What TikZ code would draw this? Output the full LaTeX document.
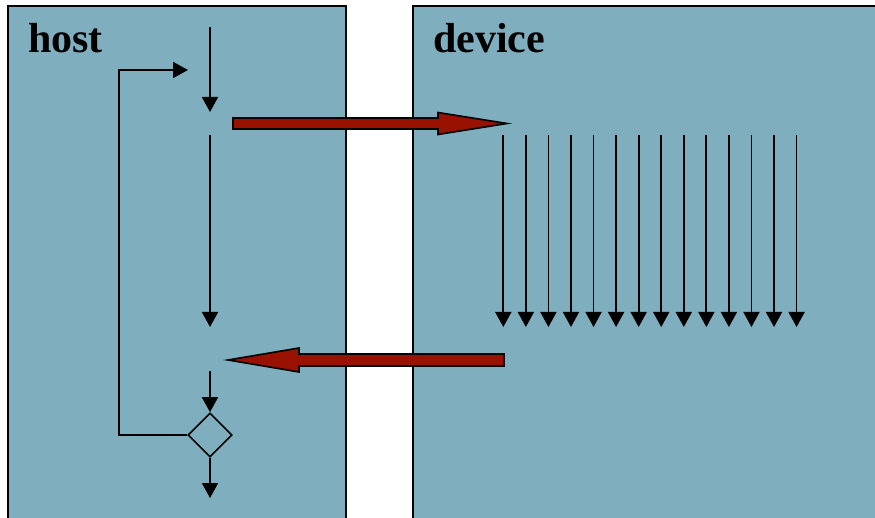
\documentclass[tikz,border=0pt]{standalone}
\usepackage{fontspec}
\setmainfont{Liberation Serif}
\usetikzlibrary{arrows.meta,positioning,shapes.geometric}
\definecolor{panelblue}{RGB}{127,174,190}
\definecolor{copyred}{RGB}{153,18,0}

\begin{document}
\begin{tikzpicture}[x=1pt,y=-1pt,
    panel/.style={draw=black, line width=1.6pt, fill=panelblue},
    flow/.style={line width=1.7pt, -{Triangle[length=15pt,width=16pt]}},
    fatarrow/.style={draw=black, line width=1.6pt, fill=copyred, line join=miter},
    title/.style={font=\bfseries\fontsize{42}{50}\selectfont, anchor=base west, inner sep=0pt}]

            \useasboundingbox (0,0) rectangle (875,518);
            \clip (0,0) rectangle (875,518);

            % panels
            \draw[panel] (8,6) rectangle (346,540);
            \draw[panel] (413,6) rectangle (890,540);
            \node[title] (host) at (28,53) {host};
            \node[title] (device) at (433,53) {device};

            % host flow
            \coordinate (h1) at (210,27);
            \coordinate (h2) at (210,112);
            \coordinate (h3) at (210,135);
            \coordinate (h4) at (210,327);
            \coordinate (h5) at (210,371);
            \coordinate (h6) at (210,498);
            \coordinate (loopend) at (188,70);
            \node[diamond, draw, line width=1.6pt, minimum width=44pt, minimum height=44pt, inner sep=0pt] (test) at (210,435) {};
            \draw[flow] (h1) -- (h2);
            \draw[flow] (h3) -- (h4);
            \draw[flow] (h5) -- (test.north);
            \draw[flow] (test.south) -- (h6);
            \draw[flow] (test.west) -- ++(-68,0) |- (loopend);

            % device threads
            \foreach \i in {0,...,13}
            {
            \coordinate (k\i) at (503.3+22.56*\i,135);
            \draw[flow] (k\i) -- ++(0,192);
            }

            % copies
            \coordinate (launch) at (233,123.5);
            \coordinate (kernel) at (507,123.5);
            \draw[fatarrow] (launch) ++(0,-5.5) -- ++(205,0) -- ++(0,-5.5) -- (kernel) -- ++(-69,11) -- ++(0,-5.5) -- ++(-205,0) -- cycle;
            \coordinate (done) at (504,360);
            \coordinate (back) at (228,360);
            \draw[fatarrow] (done) ++(0,-6) -- ++(-205,0) -- ++(0,-6) -- (back) -- ++(71,12) -- ++(0,-6) -- ++(205,0) -- cycle;
\end{tikzpicture}
\end{document}
